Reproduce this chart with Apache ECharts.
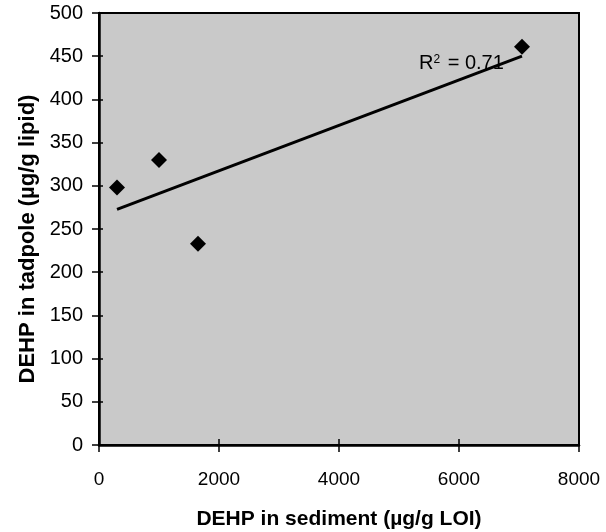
<!DOCTYPE html>
<html>
<head>
<meta charset="utf-8">
<style>
html,body{margin:0;padding:0;background:#fff;}
#chart{width:606px;height:532px;}
</style>
<script src="https://cdn.jsdelivr.net/npm/echarts@6/dist/echarts.min.js"></script>
</head>
<body>
<div id="chart"></div>
<script>
// Data
var sedimentDEHP = [300, 1000, 1650, 7050];   // µg/g LOI
var tadpoleDEHP = [298, 330, 233, 461];       // µg/g lipid
var rSquaredLabel = 'R{sup|2} = 0.71';
var xTicks = [0, 2000, 4000, 6000, 8000];
var yTicks = [0, 50, 100, 150, 200, 250, 300, 350, 400, 450, 500];

// least-squares trend line derived from the data
var n = sedimentDEHP.length, mx = 0, my = 0;
for (var i = 0; i < n; i++) { mx += sedimentDEHP[i]; my += tadpoleDEHP[i]; }
mx /= n; my /= n;
var sxy = 0, sxx = 0;
for (var i = 0; i < n; i++) {
  sxy += (sedimentDEHP[i] - mx) * (tadpoleDEHP[i] - my);
  sxx += (sedimentDEHP[i] - mx) * (sedimentDEHP[i] - mx);
}
var slope = sxy / sxx, intercept = my - slope * mx;
var xMin = Math.min.apply(null, sedimentDEHP), xMax = Math.max.apply(null, sedimentDEHP);
var trend = [[xMin, intercept + slope * xMin], [xMax, intercept + slope * xMax]];

var points = sedimentDEHP.map(function (x, i) { return [x, tadpoleDEHP[i]]; });

var font = '"Liberation Sans", Arial, sans-serif';
var chart = echarts.init(document.getElementById('chart'));
var baseX = {
  type: 'value', min: xTicks[0], max: xTicks[xTicks.length - 1], interval: 2000,
  splitLine: { show: false }
};
var baseY = {
  type: 'value', min: yTicks[0], max: yTicks[yTicks.length - 1], interval: 50,
  splitLine: { show: false }
};
chart.setOption({
  animation: false,
  grid: {
    left: 99, right: 27, top: 13, bottom: 87,
    outerBoundsMode: 'none', containLabel: false,
    show: true, backgroundColor: '#c9c9c9', borderColor: '#000', borderWidth: 2
  },
  xAxis: [
    Object.assign({}, baseX, {
      name: 'DEHP in sediment (µg/g LOI)', nameLocation: 'middle', nameGap: 64,
      nameTextStyle: { fontFamily: font, fontSize: 21, fontWeight: 'bold', color: '#000' },
      axisLine: { lineStyle: { color: '#000', width: 2.5 } },
      axisTick: { length: 7, lineStyle: { color: '#000', width: 1.5 } },
      axisLabel: { fontFamily: font, fontSize: 19, color: '#000', margin: 25,
        formatter: function (v) { return String(v); } }
    }),
    Object.assign({}, baseX, {
      position: 'bottom', show: true,
      axisLine: { show: false },
      axisTick: { inside: true, length: 6, lineStyle: { color: '#000', width: 1.5 } },
      axisLabel: { show: false }
    })
  ],
  yAxis: [
    Object.assign({}, baseY, {
      name: 'DEHP in tadpole (µg/g lipid)', nameLocation: 'middle', nameGap: 59,
      nameTextStyle: { fontFamily: font, fontSize: 22, fontWeight: 'bold', color: '#000',
        padding: [0, 20, 0, 0] },
      axisLine: { lineStyle: { color: '#000', width: 2.5 } },
      axisTick: { length: 7, lineStyle: { color: '#000', width: 1.5 } },
      axisLabel: { fontFamily: font, fontSize: 20, color: '#000', margin: 16 }
    }),
    Object.assign({}, baseY, {
      position: 'left', show: true,
      axisLine: { show: false },
      axisTick: { inside: true, length: 4, lineStyle: { color: '#000', width: 1.5 } },
      axisLabel: { show: false }
    })
  ],
  series: [
    {
      type: 'line', data: trend, symbol: 'none', silent: true,
      lineStyle: { color: '#000', width: 3 },
      markPoint: {
        symbol: 'rect', symbolSize: 0,
        data: [{ coord: [6040, 441] }],
        label: {
          show: true, position: 'inside', formatter: rSquaredLabel,
          fontFamily: font, fontSize: 20, color: '#000',
          rich: { sup: { fontFamily: font, fontSize: 12, color: '#000', verticalAlign: 'top', padding: [0, 2, 9, 0] } }
        }
      }
    },
    {
      type: 'scatter', data: points, symbol: 'diamond', symbolSize: 16,
      itemStyle: { color: '#000', opacity: 1 }
    }
  ]
});
</script>
</body>
</html>
